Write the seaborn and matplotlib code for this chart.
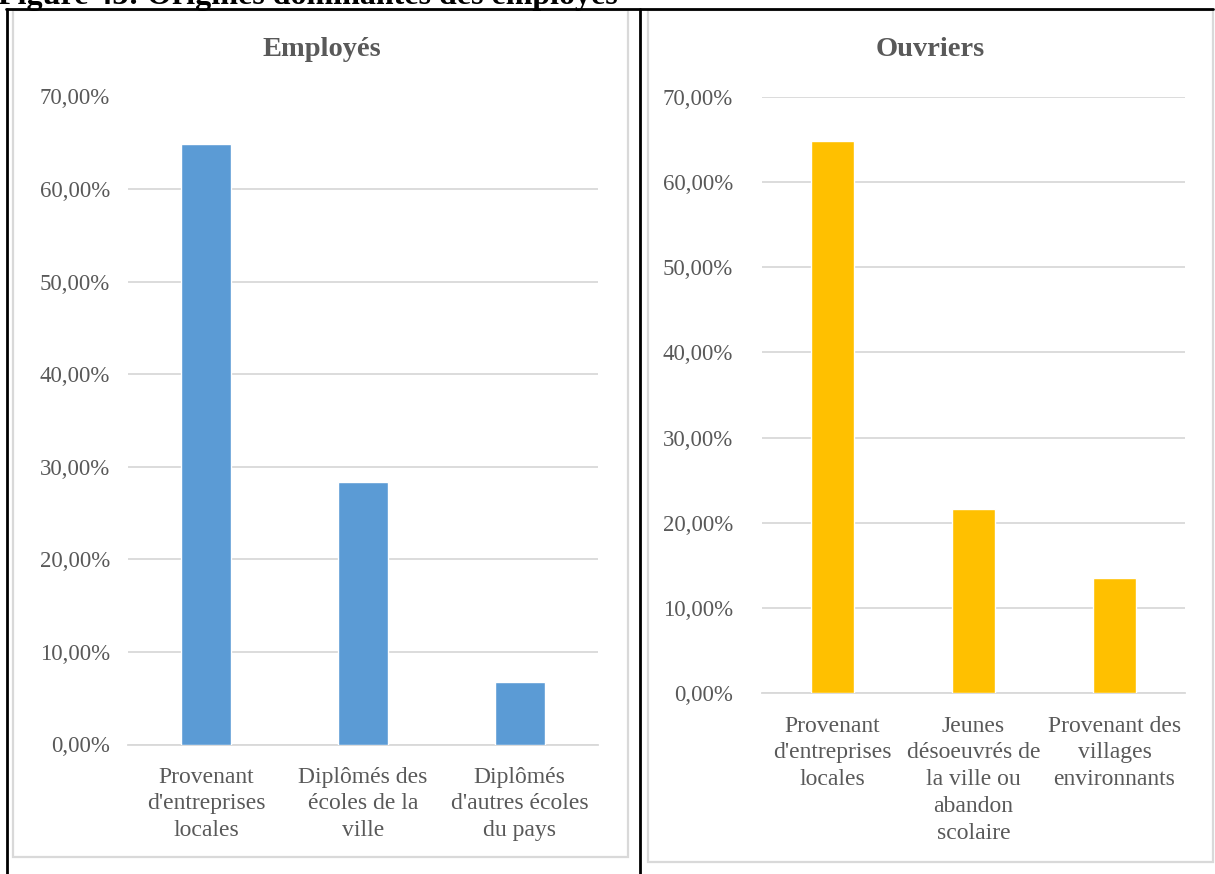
import matplotlib
matplotlib.use("Agg")
import matplotlib.pyplot as plt
import seaborn as sns
import pandas as pd
from matplotlib.patches import Rectangle
from matplotlib.lines import Line2D
from matplotlib.ticker import FuncFormatter, MultipleLocator

# ---- data ----
fig_title = "Figure 43: Origines dominantes des employés"
emp_title = "Employés"
emp_categories = ["Provenant\nd'entreprises\nlocales",
                  "Diplômés des\nécoles de la\nville",
                  "Diplômés\nd'autres écoles\ndu pays"]
emp_values = [0.6486, 0.2838, 0.0676]

ouv_title = "Ouvriers"
ouv_categories = ["Provenant\nd'entreprises\nlocales",
                  "Jeunes\ndésoeuvrés de\nla ville ou\nabandon\nscolaire",
                  "Provenant des\nvillages\nenvironnants"]
ouv_values = [0.6486, 0.2162, 0.1351]

sns.set_theme(style="white")
plt.rcParams['font.family'] = ['Liberation Serif', 'DejaVu Serif']

W, H = 1215, 874
fig = plt.figure(figsize=(W / 100, H / 100), dpi=100)

TXT = "#595959"
GRID = "#d9d9d9"

def px_axes(x0, y0, x1, y1):
    return fig.add_axes([x0 / W, 1 - y1 / H, (x1 - x0) / W, (y1 - y0) / H])

def pct(v, _):
    return f"{v*100:.2f}%".replace(".", ",")

def draw(ax, cats, vals, color, width, title, ypad, title_xy):
    df = pd.DataFrame({"cat": cats, "val": vals})
    sns.barplot(data=df, x="cat", y="val", color=color, width=width,
                saturation=1, ax=ax, zorder=3)
    ax.set_ylim(0, 0.70)
    ax.yaxis.set_major_locator(MultipleLocator(0.10))
    ax.yaxis.set_major_formatter(FuncFormatter(pct))
    ax.grid(axis="y", color=GRID, linewidth=1.3, zorder=0)
    ax.set_axisbelow(True)
    for s in ["top", "right", "left"]:
        ax.spines[s].set_visible(False)
    ax.spines["bottom"].set_color(GRID)
    ax.spines["bottom"].set_linewidth(1.3)
    ax.set_xlabel("")
    ax.set_ylabel("")
    ax.tick_params(axis="both", length=0, colors=TXT)
    ax.tick_params(axis="y", pad=ypad, labelsize=16.5)
    ax.tick_params(axis="x", pad=16, labelsize=17)
    for lab in ax.get_xticklabels():
        lab.set_linespacing(1.36)
        lab.set_color(TXT)
    fig.text(title_xy[0] / W, 1 - title_xy[1] / H, title, ha="center",
             va="center", fontsize=20.5, fontweight="bold", color=TXT)

# chart frames (grey)
fig.patches.append(Rectangle((13 / W, 1 - 857 / H), (628 - 13) / W, (857 - 10) / H,
                             transform=fig.transFigure, fill=False,
                             edgecolor=GRID, linewidth=1.6))
fig.patches.append(Rectangle((648 / W, 1 - 862 / H), (1213 - 648) / W, (862 - 10) / H,
                             transform=fig.transFigure, fill=False,
                             edgecolor=GRID, linewidth=1.6))

ax1 = px_axes(128, 96.5, 598, 744.5)
draw(ax1, emp_categories, emp_values, "#5B9BD5", 0.32, emp_title, 13, (322, 50))

ax2 = px_axes(762, 96.7, 1185, 693.3)
draw(ax2, ouv_categories, ouv_values, "#FFC000", 0.31, ouv_title, 21, (930, 50))

# document table borders (black)
for (x0, y0, x1, y1) in [(6, 9, 1213, 9), (7, 9, 7, 874), (640, 9, 640, 874)]:
    fig.lines.append(Line2D([x0 / W, x1 / W], [1 - y0 / H, 1 - y1 / H],
                            transform=fig.transFigure, color="black", linewidth=2))

# caption, cut off at top
fig.text(-2 / W, 1 - 4 / H, fig_title, ha="left", va="baseline",
         fontsize=23, fontweight="bold", color="black")

fig.savefig("out.png", dpi=100)
